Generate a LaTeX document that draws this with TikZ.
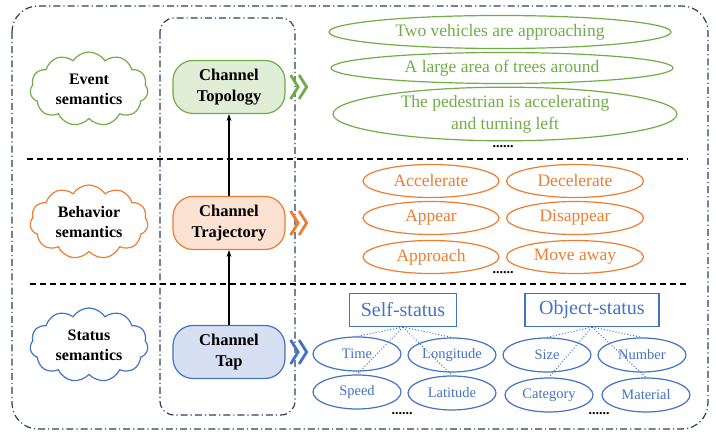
\documentclass[tikz,border=0pt]{standalone}
\usepackage{fontspec}
\setmainfont{Liberation Serif}
\usetikzlibrary{shapes.symbols,shapes.geometric,arrows.meta}

\definecolor{evgreen}{HTML}{70AD47}
\definecolor{bhorange}{HTML}{ED7D31}
\definecolor{stblue}{HTML}{4472C4}
\definecolor{frameblue}{HTML}{2E3F5F}

\begin{document}
\begin{tikzpicture}[x=1pt,y=-1pt,
    dashdot/.style={draw=frameblue, line width=1.2pt, rounded corners=#1,
      dash pattern=on 7pt off 3pt on 1.2pt off 3pt},
    sep/.style={line width=1.3pt, dash pattern=on 6pt off 4pt},
    semcloud/.style={cloud, cloud puffs=11, cloud puff arc=115, aspect=1.7,
      draw=#1, line width=1.2pt, fill=white, minimum width=118pt,
      minimum height=74pt, inner sep=0pt, align=center,
      font=\bfseries\fontsize{16}{20}\selectfont},
    chan/.style={draw=#1, fill=#1!22, line width=1.2pt, rounded corners=20pt,
      minimum width=112pt, minimum height=53pt, inner sep=0pt, align=center,
      font=\bfseries\fontsize{16.5}{21}\selectfont},
    oval/.style={ellipse, draw=#1, text=#1, line width=1.2pt, inner sep=0pt,
      font=\fontsize{17.5}{22}\selectfont},
    leaf/.style={ellipse, draw=stblue, text=stblue, line width=1.2pt,
      inner sep=0pt, minimum width=88pt, minimum height=34pt,
      font=\fontsize{14.5}{17}\selectfont},
    statbox/.style={draw=stblue, text=stblue, line width=1.2pt, inner sep=0pt,
      minimum height=33pt, font=\fontsize{20}{23}\selectfont},
    more/.style={font=\bfseries\fontsize{14}{14}\selectfont},
    chevron/.style={#1, line width=2.8pt, miter limit=10},
    link/.style={stblue, line width=1pt, dotted}
  ]
  \useasboundingbox (0,0) rectangle (716,435);

  % frames
  \draw[dashdot=26pt] (12,6) rectangle (708,429);
  \draw[dashdot=14pt] (160,18) rectangle (295,415);
  \draw[sep] (27,159) -- (688,159);
  \draw[sep] (30,284) -- (688,284);

  % semantic levels
  \node[semcloud=evgreen] (event) at (89,89) {Event\\semantics};
  \node[semcloud=bhorange] (behavior) at (89,222) {Behavior\\semantics};
  \node[semcloud=stblue] (status) at (89,345) {Status\\semantics};

  % channels
  \node[chan=evgreen] (topo) at (229,87) {Channel\\Topology};
  \node[chan=bhorange] (traj) at (229,223) {Channel\\Trajectory};
  \node[chan=stblue] (tap) at (229,352) {Channel\\Tap};
  \draw[line width=1.2pt, -{Stealth[length=7pt,width=5pt]}] (tap) -- (traj);
  \draw[line width=1.2pt, -{Stealth[length=7pt,width=5pt]}] (traj) -- (topo);

  % chevrons
  \foreach \ch/\col in {topo/evgreen, traj/bhorange, tap/stblue}
    \draw[chevron=\col] ([xshift=5pt]\ch.east) ++(0,-12) -- ++(7.5,12) -- ++(-7.5,12)
      ++(8.5,-24) -- ++(7.5,12) -- ++(-7.5,12);

  % event semantics
  \node[oval=evgreen, minimum width=342pt, minimum height=33pt] (ev1) at (500,32)
    {Two vehicles are approaching};
  \node[oval=evgreen, minimum width=342pt, minimum height=31pt] (ev2) at (502,68)
    {A large area of trees around};
  \node[oval=evgreen, minimum width=344pt, minimum height=48pt, align=center]
    (ev3) at (505,114) {The pedestrian is accelerating\\and turning left};
  \node[more] (evmore) at (503,147) {......};

  % behavior semantics
  \node[oval=bhorange, minimum width=136pt, minimum height=33pt] (acc) at (431,181) {Accelerate};
  \node[oval=bhorange, minimum width=137pt, minimum height=33pt] (dec) at (575,181) {Decelerate};
  \node[oval=bhorange, minimum width=136pt, minimum height=33pt] (app) at (431,218) {Appear};
  \node[oval=bhorange, minimum width=137pt, minimum height=33pt] (dis) at (575,218) {Disappear};
  \node[oval=bhorange, minimum width=136pt, minimum height=33pt] (appr) at (431,257) {Approach};
  \node[oval=bhorange, minimum width=137pt, minimum height=33pt] (away) at (575,257) {Move away};
  \node[more] (bhmore) at (503,273) {......};

  % status semantics
  \node[statbox, minimum width=107pt] (self) at (403,310) {Self-status};
  \node[statbox, minimum width=134pt] (obj) at (592,310) {Object-status};
  \node[leaf] (time) at (357,354) {Time};
  \node[leaf] (lon) at (452,355) {Longitude};
  \node[leaf] (speed) at (357,392) {Speed};
  \node[leaf] (lat) at (452,393) {Latitude};
  \node[leaf] (size) at (547,355) {Size};
  \node[leaf] (num) at (642,355) {Number};
  \node[leaf] (cat) at (549,395) {Category};
  \node[leaf] (mat) at (646,395) {Material};
  \node[more] (selfmore) at (402,414) {......};
  \node[more] (objmore) at (599,414) {......};
  \foreach \s in {time,lon,speed,lat}
    \draw[link] (self.south) -- (\s.north);
  \foreach \s in {size,num,cat,mat}
    \draw[link] (obj.south) -- (\s.north);
\end{tikzpicture}
\end{document}
